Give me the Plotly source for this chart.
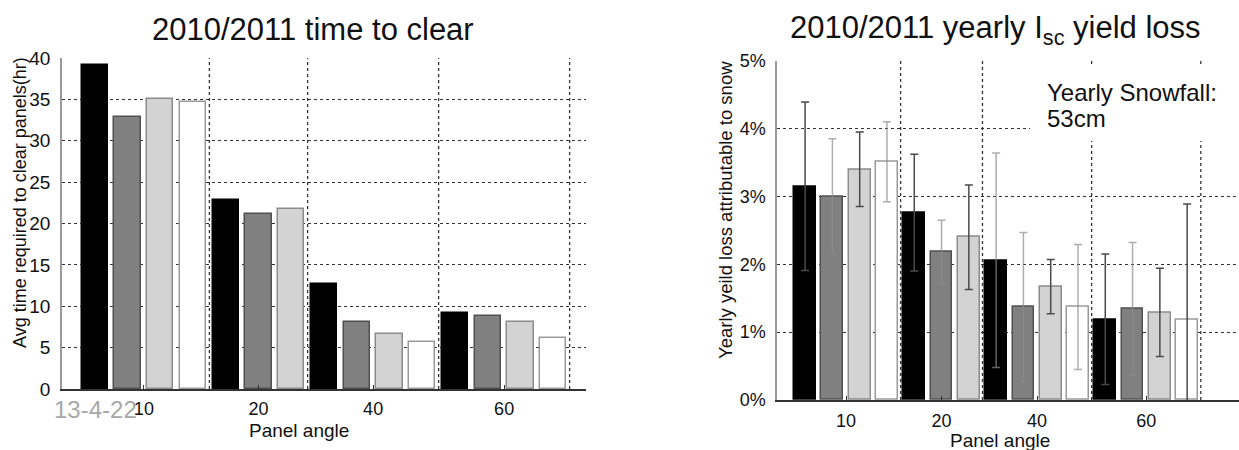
import plotly.graph_objects as go

# ---------------- data ----------------
groups = ["10", "20", "40", "60"]

# left chart: average time to clear panels (hr), per panel angle group
clear_10 = [39.1, 32.9, 35.0, 34.7]
clear_20 = [22.9, 21.2, 21.8]
clear_40 = [12.7, 8.1, 6.7, 5.7]
clear_60 = [9.2, 8.8, 8.1, 6.2]

# right chart: yearly Isc yield loss (%) and error (+/-)
loss_10 = [3.15, 3.00, 3.40, 3.51]
loss_20 = [2.76, 2.18, 2.40]
loss_40 = [2.06, 1.37, 1.67, 1.37]
loss_60 = [1.19, 1.34, 1.29, 1.18]
err_10 = [1.24, 0.85, 0.55, 0.59]
err_20 = [0.86, 0.47, 0.77]
err_40 = [1.58, 1.10, 0.40, 0.92]
err_60 = [0.96, 0.98, 0.65, 1.71]

clear_data = [clear_10, clear_20, clear_40, clear_60]
loss_data = [loss_10, loss_20, loss_40, loss_60]
err_data = [err_10, err_20, err_40, err_60]

# ---------------- styles ----------------
FONT = "Liberation Sans, Arial, Helvetica, sans-serif"
fills = ["#000000", "#808080", "#d3d3d3", "#ffffff"]
edges = ["#000000", "#505050", "#8c8c8c", "#9a9a9a"]
DARK = "#4a4a4a"
LIGHT = "rgba(140,140,140,0.7)"
err_styles = [
    [DARK, LIGHT, DARK, LIGHT],
    [DARK, LIGHT, DARK],
    [LIGHT, LIGHT, DARK, LIGHT],
    [DARK, LIGHT, DARK, DARK],
]
GRID = "#333333"

fig = go.Figure()


def layout_slots(data):
    """consecutive bar slots; returns per-group slot lists, centres, separators"""
    slots, centres, seps = [], [], []
    s = 0
    for vals in data:
        xs = list(range(s, s + len(vals)))
        slots.append(xs)
        centres.append(sum(xs) / len(xs))
        seps.append(xs[-1] + 0.5)
        s += len(vals)
    return slots, centres, seps


# left chart
l_slots, l_centres, l_seps = layout_slots(clear_data)
for g, vals in enumerate(clear_data):
    for i, v in enumerate(vals):
        fig.add_trace(go.Bar(
            x=[l_slots[g][i]], y=[v], width=0.8,
            marker=dict(color=fills[i], line=dict(color=edges[i], width=1.5)),
            xaxis="x", yaxis="y", showlegend=False,
            hovertemplate=f"Panel angle {groups[g]}<br>%{{y}} hr<extra></extra>",
        ))

# right chart
r_slots, r_centres, r_seps = layout_slots(loss_data)
for g, vals in enumerate(loss_data):
    for i, v in enumerate(vals):
        fig.add_trace(go.Bar(
            x=[r_slots[g][i]], y=[v], width=0.8,
            marker=dict(color=fills[i], line=dict(color=edges[i], width=1.5)),
            error_y=dict(type="data", array=[err_data[g][i]], visible=True,
                         color=err_styles[g][i], thickness=1.5, width=4),
            xaxis="x2", yaxis="y2", showlegend=False,
            hovertemplate=f"Panel angle {groups[g]}<br>%{{y}}%<extra></extra>",
        ))

shapes = []
for sx in l_seps:
    shapes.append(dict(type="line", xref="x", yref="y", x0=sx, x1=sx, y0=0, y1=40,
                       line=dict(color=GRID, width=1.3, dash="dot"), layer="below"))
for sx in r_seps:
    shapes.append(dict(type="line", xref="x2", yref="y2", x0=sx, x1=sx, y0=0, y1=5,
                       line=dict(color=GRID, width=1.3, dash="dot"), layer="below"))
# white box behind the snowfall note
shapes.append(dict(type="rect", xref="paper", yref="paper",
                   x0=1030 / 1239, x1=1.0, y0=1 - 141 / 450, y1=1 - 64 / 450,
                   fillcolor="white", line=dict(width=0), layer="above"))

axis_common = dict(showline=True, zeroline=False, ticks="inside", ticklen=4,
                   automargin=False,
                   tickcolor="#333", tickfont=dict(family=FONT, size=18, color="#111"))

fig.update_layout(
    template="none",
    width=1239, height=450,
    margin=dict(l=0, r=0, t=0, b=0, pad=0),
    paper_bgcolor="white", plot_bgcolor="white",
    barmode="overlay", bargap=0,
    font=dict(family=FONT, color="#111"),
    xaxis=dict(domain=[62 / 1239, 586 / 1239], range=[-1, 15], anchor="y",
               tickvals=l_centres, ticktext=groups, showgrid=False,
               linecolor="#333", linewidth=1.5, ticklabelstandoff=3, **axis_common),
    yaxis=dict(domain=[61 / 450, 392 / 450], range=[0, 40], dtick=5, anchor="x",
               showgrid=True, gridcolor=GRID, griddash="dot", gridwidth=1,
               linecolor="#999", linewidth=1.5, ticks="", ticklabelstandoff=6,
               showline=True, zeroline=False, automargin=False,
               tickfont=dict(family=FONT, size=19, color="#111")),
    xaxis2=dict(domain=[777 / 1239, 1.0], range=[-1.03, 15.9], anchor="y2",
                tickvals=r_centres, ticktext=groups, showgrid=False,
                linecolor="#333", linewidth=1.5, ticklabelstandoff=4, **axis_common),
    yaxis2=dict(domain=[50 / 450, 389.3 / 450], range=[0, 5], dtick=1, anchor="x2",
                ticksuffix="%", showgrid=True, gridcolor=GRID, griddash="dot",
                gridwidth=1, linecolor="#999", linewidth=1.5, ticks="",
                ticklabelstandoff=6, showline=True, zeroline=False, automargin=False,
                tickfont=dict(family=FONT, size=18, color="#111")),
    shapes=shapes,
)

ann = [
    dict(text="2010/2011 time to clear", x=313 / 1239, y=1 - 30 / 450,
         font=dict(size=31)),
    dict(text="2010/2011 yearly I<sub>sc</sub> yield loss", x=995 / 1239, y=1 - 30 / 450,
         font=dict(size=31)),
    dict(text="Avg time required to clear panels(hr)", x=20 / 1239, y=1 - 203 / 450,
         textangle=-90, font=dict(size=18)),
    dict(text="Yearly yeild loss attributable to snow", x=725 / 1239, y=1 - 210 / 450,
         textangle=-90, font=dict(size=18.5)),
    dict(text="Panel angle", x=299 / 1239, y=1 - 430 / 450, font=dict(size=19)),
    dict(text="Panel angle", x=1000 / 1239, y=1 - 440 / 450, font=dict(size=19)),
    dict(text="Yearly Snowfall:", x=1045 / 1239, y=1 - 92 / 450, xanchor="left",
         font=dict(size=24)),
    dict(text="53cm", x=1045 / 1239, y=1 - 118 / 450, xanchor="left",
         font=dict(size=24)),
    dict(text="13-4-22", x=95 / 1239, y=1 - 409 / 450, font=dict(size=24, color="#a8a8a8")),
]
for a in ann:
    a.setdefault("xanchor", "center")
    a.update(xref="paper", yref="paper", yanchor="middle", showarrow=False)
    a["font"].setdefault("family", FONT)
    a["font"].setdefault("color", "#111")
fig.update_layout(annotations=ann)

fig.write_html(
    "out.html",
    config={"displayModeBar": False},
    post_script="document.body.style.margin='0';document.body.style.overflow='hidden';",
)
